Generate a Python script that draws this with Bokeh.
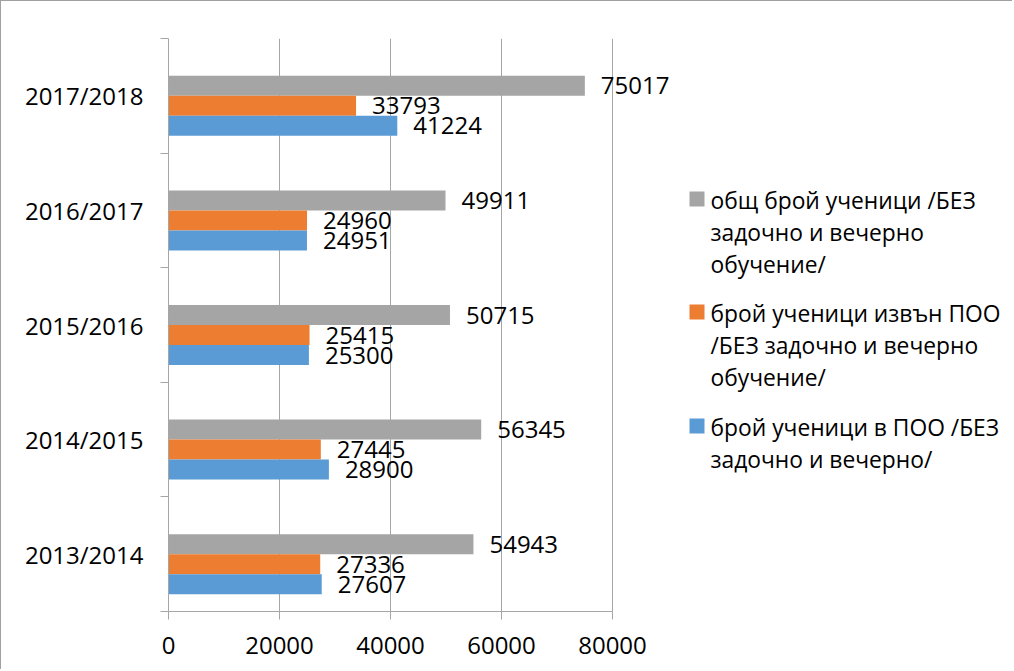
from bokeh.plotting import figure
from bokeh.models import Range1d, FixedTicker, ColumnDataSource
from bokeh.embed import file_html
from bokeh.resources import INLINE
from bokeh.core.properties import value

# ---- data ----
years = ["2013/2014", "2014/2015", "2015/2016", "2016/2017", "2017/2018"]
total = [54943, 56345, 50715, 49911, 75017]
outside_poo = [27336, 27445, 25415, 24960, 33793]
inside_poo = [27607, 28900, 25300, 24951, 41224]
series_names = [
    "общ брой ученици /БЕЗ\nзадочно и вечерно\nобучение/",
    "брой ученици извън ПОО\n/БЕЗ задочно и вечерно\nобучение/",
    "брой ученици в ПОО /БЕЗ\nзадочно и вечерно/",
]
x_ticks = [0, 20000, 40000, 60000, 80000]
X_AXIS_MAX = 80000

# ---- style / layout ----
colors = ["#A5A5A5", "#ED7D31", "#5B9BD5"]
FONT = "Open Sans"
FS = "24px"
LEG_FS = "22.8px"
AXIS_GRAY = "#A6A6A6"

W, H = 1012, 669
FRAME_L, FRAME_T = 167, 37
FRAME_R_BORDER = 0
AXIS_PX = 444            # pixel length of 0..80000
FRAME_H = 573
frame_w = W - FRAME_L - FRAME_R_BORDER
x_max = X_AXIS_MAX * frame_w / AXIS_PX
px_x = AXIS_PX / X_AXIS_MAX          # px per data unit (x)
band_px = FRAME_H / len(years)        # px per category band

p = figure(width=W, height=H, output_backend="svg", toolbar_location=None,
           x_range=Range1d(0, x_max), y_range=Range1d(0, len(years)),
           min_border_left=FRAME_L, min_border_top=FRAME_T,
           min_border_right=FRAME_R_BORDER,
           min_border_bottom=H - FRAME_T - FRAME_H,
           styles={"border-left": "1px solid #A0A0A0", "border-top": "1px solid #A0A0A0"})
p.outline_line_color = None
p.background_fill_color = "white"
p.border_fill_color = "white"

bh = 20.0 / band_px
offsets = [0.5 * bh, -0.5 * bh, -1.5 * bh]
series = [total, outside_poo, inside_poo]
centers = [i + 0.5 for i in range(len(years))]

for vals, off, col in zip(series, offsets, colors):
    src = ColumnDataSource(dict(y=[c + off for c in centers], v=vals,
                                t=[str(v) for v in vals]))
    p.hbar(y="y", left=0, right="v", height=bh, source=src,
           fill_color=col, line_color=None)
    p.text(x="v", y="y", text="t", source=src, x_offset=16,
           text_align="left", text_baseline="middle",
           text_font=value(FONT), text_font_size=FS, text_color="black")

# axes
xa = p.xaxis[0]
xa.bounds = (0, X_AXIS_MAX)
xa.ticker = FixedTicker(ticks=x_ticks, minor_ticks=[])
xa.axis_line_color = AXIS_GRAY
xa.major_tick_line_color = AXIS_GRAY
xa.major_tick_out = 8
xa.major_tick_in = 0
xa.minor_tick_line_color = None
xa.major_label_text_font = FONT
xa.major_label_text_font_size = FS
xa.major_label_text_color = "black"
xa.major_label_standoff = 17

ya = p.yaxis[0]
ya.ticker = FixedTicker(ticks=centers, minor_ticks=[float(i) for i in range(len(years) + 1)])
ya.major_label_overrides = {c: y for c, y in zip(centers, years)}
ya.axis_line_color = AXIS_GRAY
ya.major_tick_out = 0
ya.major_tick_in = 0
ya.major_tick_line_color = None
ya.minor_tick_out = 8
ya.minor_tick_in = 0
ya.minor_tick_line_color = AXIS_GRAY
ya.major_label_text_font = FONT
ya.major_label_text_font_size = FS
ya.major_label_text_color = "black"
ya.major_label_standoff = 17

p.xgrid.ticker = FixedTicker(ticks=x_ticks)
p.xgrid.grid_line_color = AXIS_GRAY
p.ygrid.visible = False

# legend (drawn manually, multi-line), positions in px relative to axis origin
LEG_TEXT_DX = 542
LEG_SQ_DX = 528.5
SQ = 15
LEG_FIRST_LINE_DY = [411, 298, 184]   # px above the x axis
LINE_H = 32
sq_x, sq_y, sq_c = [], [], []
tx, ty, tt = [], [], []
for name, col, dy in zip(series_names, colors, LEG_FIRST_LINE_DY):
    sq_x.append(LEG_SQ_DX / px_x)
    sq_y.append((dy + 1.5) / band_px)
    sq_c.append(col)
    for k, line in enumerate(name.split("\n")):
        tx.append(LEG_TEXT_DX / px_x)
        ty.append((dy - k * LINE_H) / band_px)
        tt.append(line)
p.rect(x=sq_x, y=sq_y, width=SQ, height=SQ, width_units="screen", height_units="screen",
       fill_color=sq_c, line_color=None)
p.text(x=tx, y=ty, text=tt, text_align="left", text_baseline="middle",
       text_font=value(FONT), text_font_size=LEG_FS, text_color="black")

open("out.html", "w").write(file_html(p, INLINE))
